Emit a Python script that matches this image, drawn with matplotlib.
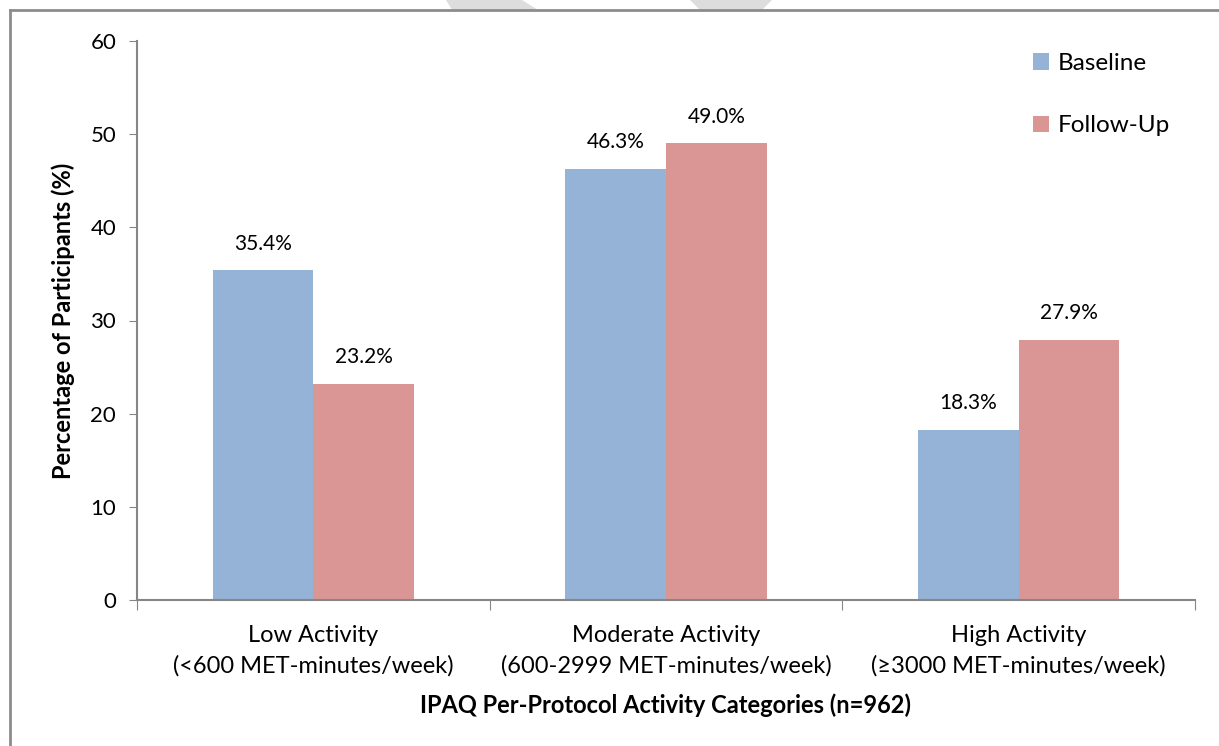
import numpy as np
import matplotlib
matplotlib.use("Agg")
import matplotlib.pyplot as plt
from matplotlib.patches import Polygon
from matplotlib.lines import Line2D

# DATA
categories = ["Low Activity\n(<600 MET-minutes/week)",
              "Moderate Activity\n(600-2999 MET-minutes/week)",
              "High Activity\n(\u22653000 MET-minutes/week)"]
baseline = [35.4, 46.3, 18.3]
follow_up = [23.2, 49.0, 27.9]
series_names = ["Baseline", "Follow-Up"]
y_ticks = [0, 10, 20, 30, 40, 50, 60]

# STYLE
blue = "#95B3D7"
red = "#D99694"
axis_grey = "#868686"
plt.rcParams["font.family"] = ["Lato", "DejaVu Sans"]

W, H = 1219, 746
fig = plt.figure(figsize=(W / 100, H / 100), dpi=100)
ax = fig.add_axes([137 / W, 1 - 600 / H, 1058 / W, 559 / H])

x = np.arange(len(categories))
width = 1 / 3.5  # excel gap width 150%
b1 = ax.bar(x - width / 2, baseline, width, color=blue, label=series_names[0])
b2 = ax.bar(x + width / 2, follow_up, width, color=red, label=series_names[1])

for bars in (b1, b2):
    for rect in bars:
        h = rect.get_height()
        ax.annotate(f"{h:.1f}%", (rect.get_x() + rect.get_width() / 2, h),
                    xytext=(0, 12), textcoords="offset points",
                    ha="center", va="bottom", fontsize=15)

ax.set_xlim(-0.5, len(categories) - 0.5)
ax.set_ylim(0, 60)
ax.set_yticks(y_ticks)
ax.tick_params(axis="y", labelsize=16, length=6, color=axis_grey, pad=9)

# category boundaries as ticks, labels in the middle
ax.set_xticks(np.arange(-0.5, len(categories), 1.0))
ax.set_xticklabels([])
ax.set_xticks(x, minor=True)
ax.set_xticklabels(categories, minor=True, fontsize=17, linespacing=1.5)
ax.tick_params(axis="x", which="major", length=7, color=axis_grey)
ax.tick_params(axis="x", which="minor", length=0, pad=18)

for side in ("top", "right"):
    ax.spines[side].set_visible(False)
for side in ("left", "bottom"):
    ax.spines[side].set_color(axis_grey)
    ax.spines[side].set_linewidth(1.5)

ax.set_ylabel("Percentage of Participants (%)", fontsize=17, fontweight="bold", labelpad=11)
ax.set_xlabel("IPAQ Per-Protocol Activity Categories (n=962)", fontsize=17,
              fontweight="bold", labelpad=12)

leg = ax.legend(loc="upper left", bbox_to_anchor=((1033 - 137) / 1058, (600 - 53) / 559),
                frameon=False, borderpad=0, borderaxespad=0,
                fontsize=17.5, handlelength=0.65, handleheight=0.65,
                handletextpad=0.35, labelspacing=1.7)

# outer chart border (left and top visible)
fig.add_artist(Line2D([10 / W, 10 / W], [0, 1 - 10 / H], transform=fig.transFigure,
                      color="#8c8c8c", lw=2))
fig.add_artist(Line2D([10 / W, 1], [1 - 10 / H, 1 - 10 / H], transform=fig.transFigure,
                      color="#8c8c8c", lw=2))

# faint watermark pieces at the top edge
for pts in ([(446, 0), (522, 0), (538, 10), (452, 10)],
            [(690, 0), (772, 0), (762, 10), (700, 10)]):
    fig.add_artist(Polygon([(px / W, 1 - py / H) for px, py in pts],
                           transform=fig.transFigure, color="#dddddd", lw=0, zorder=-1))

fig.savefig("out.png", dpi=100)
